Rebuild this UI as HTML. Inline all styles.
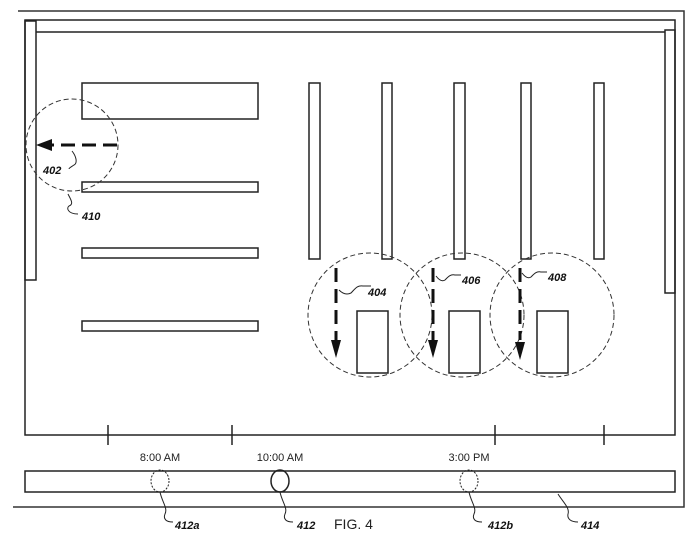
<!DOCTYPE html>
<html><head><style>body{margin:0;background:#fff}svg{display:block}</style></head><body>
<svg width="700" height="557" viewBox="0 0 700 557" xmlns="http://www.w3.org/2000/svg" font-family="Liberation Sans, sans-serif">
<g fill="none" stroke="#222" stroke-width="1.5">
<path d="M18 11H684V507H13" stroke="#333"/>
<rect x="25" y="20" width="650" height="415"/>
<line x1="36" y1="32" x2="665" y2="32"/>
<rect x="25" y="21" width="11" height="259"/>
<rect x="665" y="30" width="10" height="263"/>
<line x1="108" y1="425" x2="108" y2="445"/><line x1="232" y1="425" x2="232" y2="445"/>
<line x1="495" y1="425" x2="495" y2="445"/><line x1="604" y1="425" x2="604" y2="445"/>
<rect x="82" y="83" width="176" height="36"/>
<rect x="82" y="182" width="176" height="10"/>
<rect x="82" y="248" width="176" height="10"/>
<rect x="82" y="321" width="176" height="10"/>
<rect x="309" y="83" width="11" height="176"/>
<rect x="382" y="83" width="10" height="176"/>
<rect x="454" y="83" width="11" height="176"/>
<rect x="521" y="83" width="10" height="176"/>
<rect x="594" y="83" width="10" height="176"/>
<rect x="357" y="311" width="31" height="62"/>
<rect x="449" y="311" width="31" height="62"/>
<rect x="537" y="311" width="31" height="62"/>
<rect x="25" y="471" width="650" height="21"/>
</g>
<g fill="none" stroke="#333" stroke-width="1" stroke-dasharray="5,3">
<circle cx="72" cy="145" r="46"/>
<circle cx="370" cy="315" r="62"/>
<circle cx="462" cy="315" r="62"/>
<circle cx="552" cy="315" r="62"/>
</g>
<g stroke="#111" stroke-width="3" stroke-dasharray="14,7" fill="none">
<line x1="117" y1="145" x2="50" y2="145"/>
<line x1="336" y1="268" x2="336" y2="340"/>
<line x1="433" y1="268" x2="433" y2="340"/>
<line x1="520" y1="268" x2="520" y2="340"/>
</g>
<g fill="#111">
<polygon points="36,145 52,139 52,151"/>
<polygon points="336,358 331,340 341,340"/>
<polygon points="433,358 428,340 438,340"/>
<polygon points="520,360 515,342 525,342"/>
</g>
<g fill="none" stroke="#222" stroke-width="1">
<path d="M72 151c4 5 6 12 2 14 -3 2 -5 3 -5 4"/>
<path d="M68 194c3 6 6 10 1 12 -3 2 -1 8 9 8"/>
<path d="M339 290c4 4 8 5 12 3 4-4 6-8 12-7h8"/>
<path d="M436 276c3 4 6 6 9 4 3-3 5-6 10-5h6"/>
<path d="M522 273c3 4 6 6 9 4 3-3 5-6 10-5h6"/>
<path d="M160 492c2 10 8 16 5 22 -2 5 1 8 8 8"/>
<path d="M280 492c2 10 8 16 5 22 -2 5 1 8 8 8"/>
<path d="M469 492c2 10 8 16 5 22 -2 5 1 8 8 8"/>
<path d="M558 494c5 8 12 14 10 20 -1 5 3 8 10 8"/>
<ellipse cx="280" cy="481" rx="9" ry="11" stroke-width="1.5"/>
<ellipse cx="160" cy="481" rx="9" ry="11" stroke-dasharray="2,1.5"/>
<ellipse cx="469" cy="481" rx="9" ry="11" stroke-dasharray="2,1.5"/>
</g>
<g font-size="11" font-style="italic" font-weight="bold" fill="#111">
<text x="43" y="174">402</text>
<text x="82" y="220">410</text>
<text x="368" y="296">404</text>
<text x="462" y="284">406</text>
<text x="548" y="281">408</text>
<text x="175" y="529">412a</text>
<text x="297" y="529">412</text>
<text x="488" y="529">412b</text>
<text x="581" y="529">414</text>
</g>
<g font-size="11" fill="#222" text-anchor="middle">
<text x="160" y="461">8:00 AM</text>
<text x="280" y="461">10:00 AM</text>
<text x="469" y="461">3:00 PM</text>
</g>
<text x="334" y="529" font-size="14" fill="#222">FIG. 4</text>
</svg>
</body></html>
